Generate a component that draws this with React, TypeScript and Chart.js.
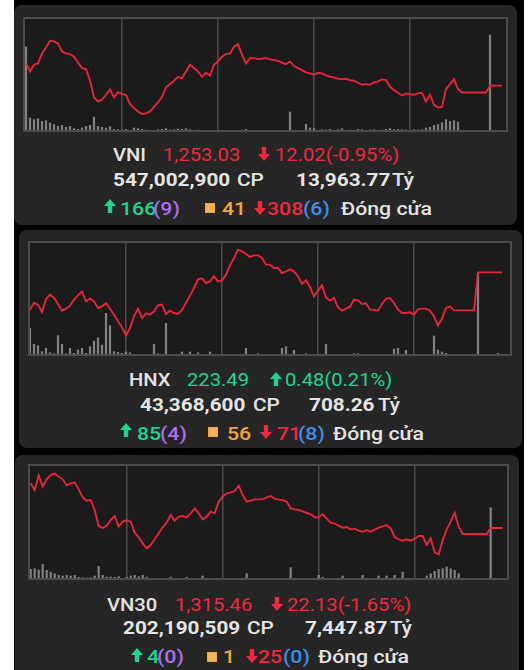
import React, { useEffect, useRef } from 'react';
import { Chart, registerables } from 'chart.js';

Chart.register(...registerables);

// ---------- DATA ----------
const GRID_TICKS = [24, 48, 72, 96];

const VNI_PRICE = [
  1259.7, 1257.3, 1259.3, 1259.7, 1262.7, 1264.5, 1266.5, 1266.3, 1265.7, 1263.3,
  1262.7, 1262.5, 1261.7, 1260.0, 1258.3, 1258.0, 1254.5, 1249.5, 1248.3, 1248.8,
  1250.3, 1251.9, 1249.5, 1251.1, 1250.5, 1250.3, 1247.5, 1246.3, 1245.3, 1244.5,
  1244.7, 1245.3, 1246.7, 1248.0, 1249.7, 1252.5, 1253.5, 1254.5, 1255.7, 1255.3,
  1257.3, 1259.3, 1258.3, 1257.3, 1255.7, 1256.9, 1256.1, 1259.3, 1260.3, 1261.7,
  1262.5, 1262.7, 1264.7, 1265.5, 1262.3, 1259.7, 1261.3, 1261.3, 1261.0, 1261.1,
  1261.3, 1260.9, 1260.7, 1260.5, 1259.9, 1259.5, 1260.3, 1258.9, 1258.3, 1257.7,
  1257.0, 1256.7, 1256.3, 1256.9, 1256.7, 1256.1, 1255.7, 1255.5, 1255.1, 1255.0,
  1255.1, 1254.7, 1254.5, 1253.9, 1253.3, 1253.5, 1253.3, 1254.0, 1254.3, 1254.9,
  1254.7, 1252.7, 1251.7, 1250.9, 1250.1, 1250.7, 1250.5, 1250.3, 1250.7, 1250.9,
  1248.3, 1250.3, 1247.3, 1246.5, 1246.7, 1252.0, 1253.5, 1255.0, 1252.0, 1251.0,
  1251.0, 1251.0, 1251.0, 1251.0, 1251.0, 1251.0, 1253.03, 1253.03, 1253.03, 1253.03,
];
const VNI_VOLUME = [
  253, 40, 35, 38, 30, 32, 25, 20, 15, 18,
  12, 15, 8, 6, 10, 15, 18, 43, 15, 12,
  10, 14, 6, 5, 4, 6, 3, 10, 8, 6,
  4, 3, 0, 5, 6, 8, 4, 5, 7, 6,
  8, 5, 3, 4, 3, 0, 0, 0, 0, 0,
  3, 0, 0, 0, 4, 6, 0, 0, 0, 0,
  0, 0, 0, 0, 0, 0, 58, 0, 0, 0,
  21, 10, 8, 3, 5, 4, 6, 3, 5, 8,
  3, 4, 3, 6, 5, 3, 4, 5, 3, 4,
  6, 8, 5, 6, 5, 4, 3, 5, 4, 5,
  10, 12, 18, 20, 26, 35, 30, 32, 28, 0,
  0, 0, 0, 0, 0, 0, 289, 0, 0, 0,
];

const HNX_PRICE = [
  222.37, 222.57, 222.52, 222.30, 222.69, 222.82, 222.72, 222.54, 222.34, 222.40,
  222.49, 222.67, 222.80, 222.92, 222.62, 222.70, 222.62, 222.42, 222.47, 222.56,
  222.40, 222.22, 222.02, 221.84, 221.60, 221.82, 222.17, 222.40, 222.12, 222.26,
  222.22, 222.32, 222.50, 222.52, 222.24, 222.34, 222.27, 222.24, 222.36, 222.57,
  222.79, 223.02, 223.28, 223.31, 223.17, 223.22, 223.37, 223.22, 223.25, 223.42,
  223.70, 223.92, 224.17, 224.12, 224.04, 223.95, 224.00, 224.00, 223.92, 223.72,
  223.72, 223.62, 223.62, 223.47, 223.52, 223.58, 223.52, 223.37, 223.14, 223.25,
  223.05, 222.77, 222.94, 223.10, 222.74, 222.64, 222.72, 222.44, 222.34, 222.40,
  222.46, 222.67, 222.65, 222.54, 222.56, 222.37, 222.37, 222.34, 222.54, 222.70,
  222.72, 222.57, 222.37, 222.27, 222.27, 222.29, 222.22, 222.38, 222.40, 222.40,
  222.34, 222.17, 221.90, 222.10, 222.42, 222.47, 222.35, 222.35, 222.35, 222.35,
  222.35, 222.35, 223.49, 223.49, 223.49, 223.49, 223.49, 223.49, 223.49,
];
const HNX_VOLUME = [
  81, 33, 29, 11, 21, 8, 5, 59, 33, 5,
  21, 6, 16, 21, 6, 26, 43, 53, 31, 126,
  89, 11, 9, 6, 10, 8, 0, 0, 0, 0,
  0, 33, 5, 0, 96, 0, 0, 0, 10, 0,
  10, 0, 8, 0, 0, 10, 0, 0, 0, 0,
  0, 0, 0, 0, 21, 0, 0, 5, 0, 0,
  0, 0, 0, 21, 26, 0, 15, 0, 0, 5,
  0, 0, 0, 0, 33, 0, 0, 0, 0, 0,
  0, 5, 5, 0, 0, 0, 0, 0, 0, 0,
  0, 19, 21, 0, 15, 0, 0, 0, 0, 0,
  0, 58, 16, 10, 6, 0, 0, 0, 0, 0,
  0, 0, 248, 0, 0, 0, 0, 6, 0,
];

const VN30_PRICE = [
  1328.86, 1326.86, 1331.26, 1327.86, 1330.16, 1331.36, 1331.86, 1330.86, 1330.06, 1328.26,
  1328.86, 1329.16, 1327.06, 1324.66, 1323.66, 1323.86, 1320.86, 1316.06, 1315.46, 1316.16,
  1317.86, 1319.06, 1315.86, 1317.36, 1317.76, 1317.36, 1314.06, 1312.66, 1310.86, 1309.36,
  1310.36, 1312.06, 1313.86, 1315.66, 1317.06, 1319.36, 1317.66, 1318.86, 1319.06, 1318.66,
  1319.86, 1321.36, 1319.86, 1318.06, 1318.86, 1320.36, 1319.86, 1323.36, 1324.86, 1325.86,
  1326.06, 1326.56, 1328.16, 1325.36, 1323.36, 1323.66, 1324.06, 1324.06, 1324.06, 1324.66,
  1325.06, 1324.26, 1323.96, 1323.86, 1323.36, 1321.36, 1321.06, 1320.86, 1320.46, 1319.96,
  1319.66, 1318.66, 1318.66, 1319.56, 1318.26, 1317.06, 1316.76, 1316.16, 1315.56, 1315.76,
  1315.06, 1315.26, 1314.66, 1314.36, 1314.76, 1314.36, 1314.96, 1315.56, 1315.96, 1316.26,
  1315.36, 1312.76, 1312.06, 1311.66, 1312.06, 1311.66, 1312.16, 1313.06, 1313.06, 1310.36,
  1312.36, 1308.16, 1307.56, 1311.76, 1315.06, 1317.36, 1320.06, 1315.86, 1313.66, 1313.66,
  1313.66, 1313.66, 1313.66, 1313.66, 1313.66, 1315.46, 1315.46, 1315.46, 1315.46,
];
const VN30_VOLUME = [
  28, 30, 26, 43, 25, 20, 15, 10, 8, 10,
  8, 10, 4, 3, 2, 3, 8, 37, 10, 5,
  5, 4, 6, 0, 4, 8, 10, 6, 10, 5,
  0, 0, 0, 0, 0, 5, 0, 0, 0, 4,
  0, 0, 0, 8, 0, 0, 0, 0, 0, 0,
  0, 0, 0, 0, 15, 0, 0, 0, 0, 0,
  0, 0, 0, 0, 0, 33, 0, 0, 0, 0,
  0, 0, 10, 4, 0, 0, 0, 0, 8, 0,
  0, 0, 0, 10, 0, 0, 0, 8, 0, 8,
  0, 10, 0, 20, 0, 0, 0, 0, 0, 8,
  15, 22, 28, 30, 35, 30, 25, 15, 0, 0,
  0, 0, 0, 0, 0, 213, 0, 0, 0,
];

// ---------- COLORS ----------
const RED = '#f0283f';
const LINE_RED = '#e8243c';
const GREEN = '#1cd690';
const WHITE = '#e4e4e4';
const PURPLE = '#ad6ef0';
const ORANGE = '#f2a63a';
const BLUE = '#3f8fec';

type Rect = { left: number; top: number; width: number; height: number };

function PriceChart(props: {
  price: number[];
  volume: number[];
  rect: Rect;
  xRange: [number, number];
  yRange: [number, number];
  vRange: [number, number];
}) {
  const ref = useRef<HTMLCanvasElement>(null);
  const { rect } = props;
  useEffect(() => {
    const chart = new Chart(ref.current as HTMLCanvasElement, {
      type: 'line',
      data: {
        datasets: [
          {
            type: 'line',
            data: props.price.map((v, i) => ({ x: i, y: v })),
            borderColor: LINE_RED,
            borderWidth: 1.9,
            pointRadius: 0,
            tension: 0,
            yAxisID: 'y',
            order: 0,
          } as any,
          {
            type: 'bar',
            data: props.volume.map((v, i) => ({ x: i, y: v })),
            backgroundColor: 'rgba(155,155,155,0.8)',
            borderWidth: 0,
            barPercentage: 0.55,
            categoryPercentage: 1,
            yAxisID: 'v',
            order: 1,
          } as any,
        ],
      },
      options: {
        animation: false,
        responsive: false,
        maintainAspectRatio: false,
        events: [],
        layout: { padding: 0 },
        plugins: { legend: { display: false }, tooltip: { enabled: false } },
        scales: {
          x: {
            type: 'linear',
            min: props.xRange[0],
            max: props.xRange[1],
            offset: false,
            ticks: { display: false },
            grid: { color: '#4a4a4a', lineWidth: 1.6, drawTicks: false, offset: false },
            border: { display: false },
            afterBuildTicks: (s: any) => {
              s.ticks = GRID_TICKS.map((v) => ({ value: v }));
            },
            afterFit: (s: any) => {
              s.height = 0;
            },
          },
          y: { display: false, min: props.yRange[0], max: props.yRange[1] },
          v: { display: false, min: props.vRange[0], max: props.vRange[1] },
        },
      } as any,
    });
    return () => chart.destroy();
  }, []);
  const pos: React.CSSProperties = {
    position: 'absolute',
    left: rect.left,
    top: rect.top,
    width: rect.width,
    height: rect.height,
  };
  return (
    <>
      <div style={{ ...pos, background: '#1b1b1b' }} />
      <canvas ref={ref} width={rect.width} height={rect.height} style={{ ...pos, display: 'block' }} />
      <div style={{ ...pos, border: '2px solid #4c4c4c', boxSizing: 'border-box', pointerEvents: 'none' }} />
    </>
  );
}

const SX = 1.12;

function T(props: { x: number; base: number; size: number; color: string; weight?: number; children: React.ReactNode }) {
  return (
    <div
      style={{
        position: 'absolute',
        left: props.x,
        top: props.base - props.size * 0.842,
        fontFamily: 'Roboto, sans-serif',
        fontSize: props.size,
        lineHeight: `${props.size}px`,
        fontWeight: props.weight ?? 500,
        color: props.color,
        whiteSpace: 'pre',
        transform: `scaleX(${SX})`,
        transformOrigin: 'left top',
      }}
    >
      {props.children}
    </div>
  );
}

function Arrow(props: { x: number; top: number; up: boolean; color: string }) {
  const d = props.up
    ? 'M6 0 L12 7 L8.2 7 L8.2 14 L3.8 14 L3.8 7 L0 7 Z'
    : 'M6 14 L12 7 L8.2 7 L8.2 0 L3.8 0 L3.8 7 L0 7 Z';
  return (
    <svg width={12} height={14} viewBox="0 0 12 14" style={{ position: 'absolute', left: props.x, top: props.top }}>
      <path d={d} fill={props.color} />
    </svg>
  );
}

function Square(props: { x: number; top: number }) {
  return (
    <div
      style={{
        position: 'absolute',
        left: props.x,
        top: props.top,
        width: 10,
        height: 10,
        background: '#f5b453',
        border: `1px solid ${ORANGE}`,
        boxSizing: 'border-box',
      }}
    />
  );
}

function Panel(props: { left: number; top: number; width: number; height: number }) {
  return (
    <div
      style={{
        position: 'absolute',
        left: props.left,
        top: props.top,
        width: props.width,
        height: props.height,
        background: '#262626',
        borderRadius: 8,
      }}
    />
  );
}

export default function App() {
  const L1 = 18;
  const L2 = 18.5;
  const L3 = 19;
  return (
    <div style={{ position: 'absolute', left: 0, top: 0, width: 530, height: 670, background: '#ffffff', overflow: 'hidden' }}>
      <div style={{ position: 'absolute', left: 14, top: 0, width: 510, height: 670, background: '#000' }} />
      <Panel left={14} top={5} width={503} height={220} />
      <Panel left={19} top={230} width={503} height={218} />
      <Panel left={15} top={455} width={504} height={230} />

      <PriceChart
        price={VNI_PRICE}
        volume={VNI_VOLUME}
        rect={{ left: 23, top: 17, width: 485, height: 115 }}
        xRange={[-0.75, 120.5]}
        yRange={[1239.13, 1273.63]}
        vRange={[-3, 342]}
      />
      <PriceChart
        price={HNX_PRICE}
        volume={HNX_VOLUME}
        rect={{ left: 28, top: 241, width: 484, height: 115 }}
        xRange={[-0.5, 120.5]}
        yRange={[220.98, 224.43]}
        vRange={[-3, 342]}
      />
      <PriceChart
        price={VN30_PRICE}
        volume={VN30_VOLUME}
        rect={{ left: 28, top: 464, width: 481, height: 116 }}
        xRange={[-0.67, 119.58]}
        yRange={[1299.86, 1334.66]}
        vRange={[-5, 343]}
      />

      {/* VNI */}
      <T x={112.7} base={161} size={L1} color={WHITE}>VNI</T>
      <T x={162.7} base={161} size={L1} color={RED} weight={400}>1,253.03</T>
      <Arrow x={257.5} top={146.5} up={false} color={RED} />
      <T x={275} base={161} size={L1} color={RED} weight={400}>12.02(-0.95%)</T>
      <T x={112.7} base={187} size={L2} color={WHITE} weight={700}>547,002,900</T>
      <T x={236.7} base={187} size={L2} color={WHITE}>CP</T>
      <T x={296} base={187} size={L2} color={WHITE} weight={700}>13,963.77</T>
      <T x={391.7} base={187} size={L2} color={WHITE}>Tỷ</T>
      <Arrow x={103.5} top={199} up={true} color={GREEN} />
      <T x={120} base={215} size={L3} color={GREEN}>166</T>
      <T x={153.3} base={215} size={L3} color={PURPLE}>(9)</T>
      <Square x={205} top={203} />
      <T x={221.7} base={215} size={L3} color={ORANGE}>41</T>
      <Arrow x={253.5} top={200.5} up={false} color={RED} />
      <T x={266.7} base={215} size={L3} color={RED}>308</T>
      <T x={303} base={215} size={L3} color={BLUE}>(6)</T>
      <T x={340.7} base={215} size={L3} color={WHITE}>Đóng cửa</T>

      {/* HNX */}
      <T x={129.3} base={386} size={L1} color={WHITE}>HNX</T>
      <T x={187.3} base={386} size={L1} color={GREEN} weight={400}>223.49</T>
      <Arrow x={269.5} top={371.5} up={true} color={GREEN} />
      <T x={285} base={386} size={L1} color={GREEN} weight={400}>0.48(0.21%)</T>
      <T x={140} base={411.5} size={L2} color={WHITE} weight={700}>43,368,600</T>
      <T x={253.3} base={411.5} size={L2} color={WHITE}>CP</T>
      <T x={309.3} base={411.5} size={L2} color={WHITE} weight={700}>708.26</T>
      <T x={378.3} base={411.5} size={L2} color={WHITE}>Tỷ</T>
      <Arrow x={119.5} top={422.5} up={true} color={GREEN} />
      <T x={136.7} base={440} size={L3} color={GREEN}>85</T>
      <T x={160} base={440} size={L3} color={PURPLE}>(4)</T>
      <Square x={208.3} top={427} />
      <T x={226.7} base={440} size={L3} color={ORANGE}>56</T>
      <Arrow x={259.5} top={424.5} up={false} color={RED} />
      <T x={276.7} base={440} size={L3} color={RED}>71</T>
      <T x={298.3} base={440} size={L3} color={BLUE}>(8)</T>
      <T x={333.3} base={440} size={L3} color={WHITE}>Đóng cửa</T>

      {/* VN30 */}
      <T x={107.3} base={611} size={L1} color={WHITE}>VN30</T>
      <T x={175} base={611} size={L1} color={RED} weight={400}>1,315.46</T>
      <Arrow x={271.2} top={596.5} up={false} color={RED} />
      <T x={287} base={611} size={L1} color={RED} weight={400}>22.13(-1.65%)</T>
      <T x={123.3} base={635} size={L2} color={WHITE} weight={700}>202,190,509</T>
      <T x={246.7} base={635} size={L2} color={WHITE}>CP</T>
      <T x={305} base={635} size={L2} color={WHITE} weight={700}>7,447.87</T>
      <T x={390} base={635} size={L2} color={WHITE}>Tỷ</T>
      <Arrow x={131.2} top={647.5} up={true} color={GREEN} />
      <T x={146.7} base={663} size={L3} color={GREEN}>4</T>
      <T x={156.7} base={663} size={L3} color={PURPLE}>(0)</T>
      <Square x={206.7} top={652} />
      <T x={223.3} base={663} size={L3} color={ORANGE}>1</T>
      <Arrow x={246.2} top={648.5} up={false} color={RED} />
      <T x={258.3} base={663} size={L3} color={RED}>25</T>
      <T x={283.3} base={663} size={L3} color={BLUE}>(0)</T>
      <T x={318.3} base={663} size={L3} color={WHITE}>Đóng cửa</T>
    </div>
  );
}
